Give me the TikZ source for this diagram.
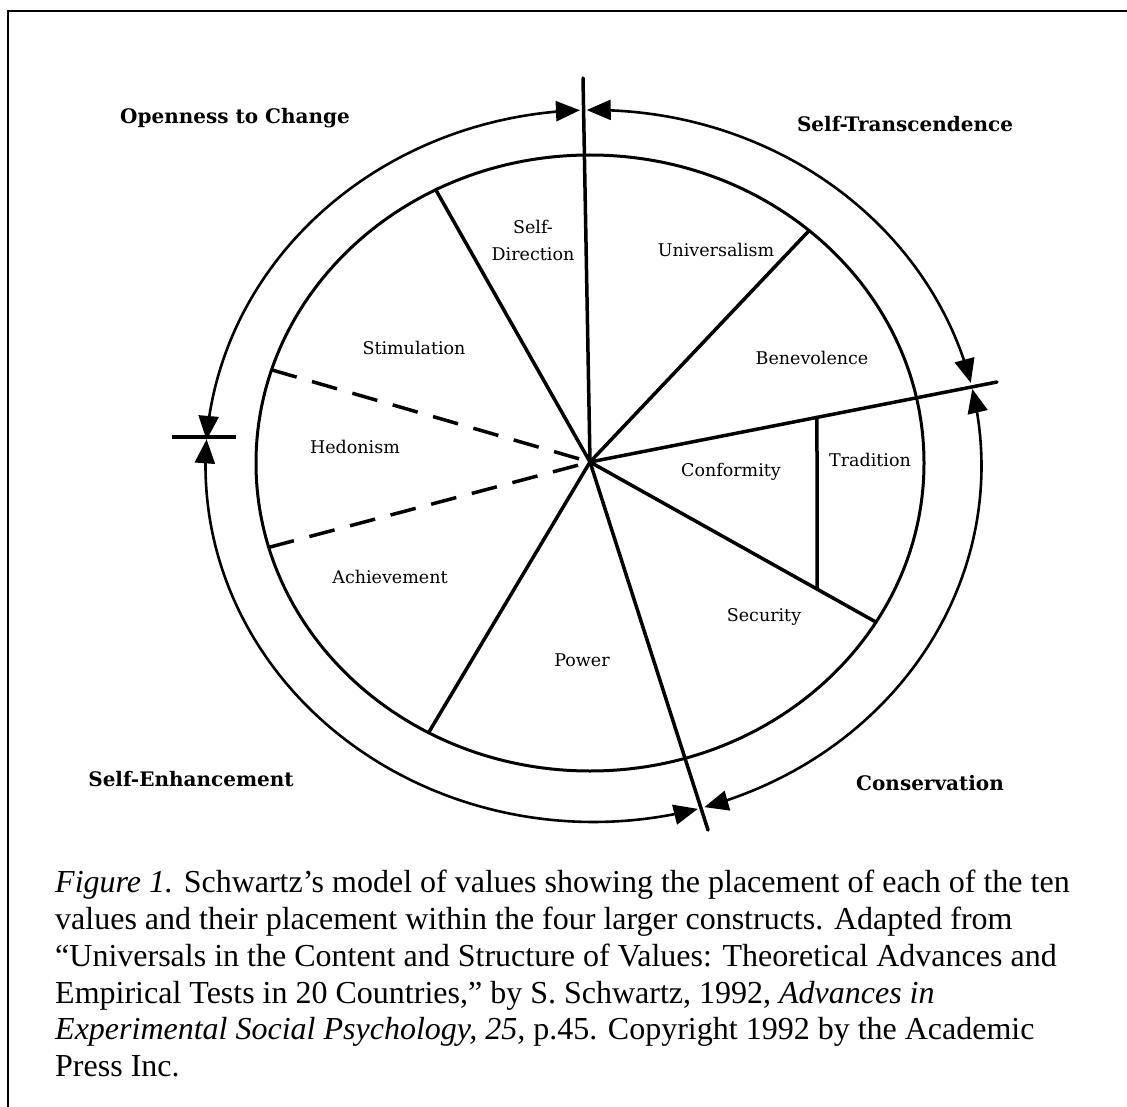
\documentclass[tikz,border=0pt]{standalone}
\usepackage{fontspec}
\setmainfont{Liberation Serif}
\newfontfamily\labfont{DejaVu Serif}
\usetikzlibrary{arrows.meta,calc}
\begin{document}
\begin{tikzpicture}[x=1pt,y=-1pt,
  lab/.style={font=\labfont\fontsize{17.5}{27}\selectfont, inner sep=0pt, align=center},
  head/.style={font=\labfont\bfseries\fontsize{20}{24}\selectfont, inner sep=0pt},
  spoke/.style={line width=3.5pt, line cap=round},
  dashspoke/.style={line width=3.5pt, dash pattern=on 26pt off 16pt},
  ring/.style={line width=3pt},
  cyc/.style={line width=2.6pt, {Triangle[length=24pt,width=20pt]}-{Triangle[length=24pt,width=20pt]}},
  tickline/.style={line width=3.2pt},
  caption/.style={font=\fontsize{32}{36.8}\selectfont, inner sep=0pt, align=left, anchor=north west}]
\useasboundingbox (0,0) rectangle (1127,1107);
\fill[white] (0,0) rectangle (1127,1107);
% frame
\draw[line width=2.8pt] (8,1107) -- (8,11) -- (1127,11);

% inner ring
\draw[ring] (590,463) ellipse [x radius=334pt, y radius=308pt];

% centre and spoke ends
\coordinate (C) at (590,462);
\coordinate (Ttop) at (583,78);
\coordinate (Tbot) at (708,830);
\coordinate (Tright) at (997,382);
\coordinate (SD) at ({590+334*cos(117.5)},{463-308*sin(117.5)});
\coordinate (UB) at ({590+334*cos(49)},{463-308*sin(49)});
\coordinate (AP) at ({590+334*cos(241.1)},{463-308*sin(241.1)});
\coordinate (ST) at ({590+334*cos(-31.1)},{463-308*sin(-31.1)});
\coordinate (DU) at ({590+334*cos(162.4)},{463-308*sin(162.4)});
\coordinate (DL) at ({590+334*cos(195.9)},{463-308*sin(195.9)});
\coordinate (Vt) at (817,0);
\coordinate (Vb) at (817,1000);
\coordinate (V1) at (intersection of C--Tright and Vt--Vb);
\coordinate (V2) at (intersection of C--ST and Vt--Vb);

\draw[spoke] (C) -- (Ttop);
\draw[spoke] (C) -- (Tbot);
\draw[spoke] (C) -- (Tright);
\draw[spoke] (C) -- (SD);
\draw[spoke] (C) -- (UB);
\draw[spoke] (C) -- (AP);
\draw[spoke] (C) -- (ST);
\draw[dashspoke] (DU) -- (C);
\draw[dashspoke] (DL) -- (C);
\draw[spoke] (V1) -- (V2);

% outer cycle arcs
\draw[cyc] plot[domain=91.0:13.5, samples=90] ({593.5+388*cos(\x)},{466-356*sin(\x)});
\draw[cyc] plot[domain=12.5:-73.4, samples=90] ({593.5+388*cos(\x)},{466-356*sin(\x)});
\draw[cyc] plot[domain=-74.4:-184.3, samples=110] ({593.5+388*cos(\x)},{466-356*sin(\x)});
\draw[cyc] plot[domain=175.8:92.0, samples=90] ({593.5+388*cos(\x)},{466-356*sin(\x)});
\coordinate (K1) at (172,437);
\coordinate (K2) at (236,437);
\draw[tickline] (K1) -- (K2);

% value labels
\node[lab] (sdir) at (533,240) {Self-\\Direction};
\node[lab] (univ) at (716,250) {Universalism};
\node[lab] (bene) at (812,358) {Benevolence};
\node[lab] (stim) at (414,348) {Stimulation};
\node[lab] (hedo) at (355,447) {Hedonism};
\node[lab] (conf) at (731,472) {Conformity};
\node[lab] (trad) at (870,460) {Tradition};
\node[lab] (achi) at (390,577) {Achievement};
\node[lab] (secu) at (764,617) {Security};
\node[lab] (powe) at (582,660) {Power};

% construct labels
\node[head] (open) at (235,118) {Openness to Change};
\node[head] (tran) at (905,124) {Self-Transcendence};
\node[head] (enha) at (191,779) {Self-Enhancement};
\node[head] (cons) at (930,783) {Conservation};

% caption
\node[caption] (cap) at (55,870) {\textit{Figure 1.} Schwartz’s model of values showing the placement of each of the ten\\
values and their placement within the four larger constructs. Adapted from\\
“Universals in the Content and Structure of Values: Theoretical Advances and\\
Empirical Tests in 20 Countries,” by S. Schwartz, 1992, \textit{Advances in}\\
\textit{Experimental Social Psychology, 25,} p.45. Copyright 1992 by the Academic\\
Press Inc.};
\end{tikzpicture}
\end{document}
